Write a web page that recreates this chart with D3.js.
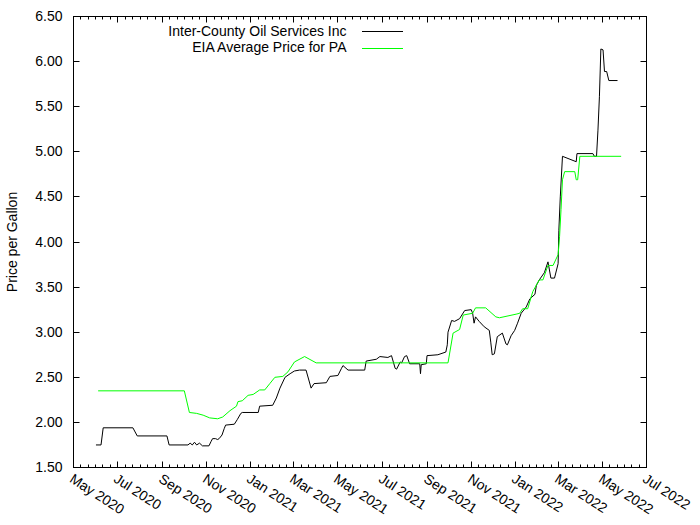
<!DOCTYPE html>
<html><head><meta charset="utf-8">
<script src="https://cdn.jsdelivr.net/npm/d3@7"></script>
<style>
html,body{margin:0;padding:0;background:#fff;}
text{font-family:"Liberation Sans",Arial,sans-serif;}
</style></head>
<body><svg id="c" width="700" height="525"></svg>
<script>
// ---- data ----
const seriesNames = ["Inter-County Oil Services Inc", "EIA Average Price for PA"];
const icData = [["2020-06-01",1.75],["2020-06-08",1.75],["2020-06-11",1.94],["2020-07-22",1.94],["2020-07-28",1.85],["2020-09-07",1.85],["2020-09-10",1.75],["2020-10-06",1.75],["2020-10-09",1.77],["2020-10-12",1.75],
["2020-10-15",1.78],["2020-10-18",1.75],["2020-10-22",1.77],["2020-10-26",1.74],["2020-11-04",1.74],["2020-11-07",1.79],["2020-11-09",1.82],["2020-11-13",1.82],["2020-11-16",1.81],["2020-11-18",1.82],
["2020-11-22",1.86],["2020-11-25",1.93],["2020-11-27",1.97],["2020-12-09",1.98],["2020-12-13",2.03],["2020-12-18",2.10],["2020-12-20",2.11],["2021-01-11",2.11],["2021-01-13",2.18],["2021-01-31",2.19],
["2021-02-05",2.27],["2021-02-10",2.38],["2021-02-17",2.50],["2021-02-24",2.54],["2021-03-02",2.57],["2021-03-09",2.58],["2021-03-18",2.58],["2021-03-25",2.38],["2021-03-29",2.43],["2021-04-15",2.44],
["2021-04-20",2.51],["2021-05-01",2.52],["2021-05-06",2.60],["2021-05-08",2.63],["2021-05-15",2.58],["2021-06-07",2.58],["2021-06-09",2.68],["2021-06-23",2.70],["2021-06-28",2.73],["2021-07-09",2.72],
["2021-07-14",2.74],["2021-07-19",2.60],["2021-07-21",2.59],["2021-07-26",2.67],["2021-07-28",2.66],["2021-08-01",2.73],["2021-08-04",2.74],["2021-08-08",2.65],["2021-08-22",2.65],["2021-08-23",2.54],
["2021-08-24",2.64],["2021-08-31",2.65],["2021-09-01",2.74],["2021-09-16",2.75],["2021-09-27",2.78],["2021-09-29",2.86],["2021-09-30",3.00],["2021-10-05",3.13],["2021-10-09",3.12],["2021-10-16",3.15],
["2021-10-23",3.24],["2021-11-01",3.25],["2021-11-03",3.21],["2021-11-05",3.10],["2021-11-07",3.17],["2021-11-12",3.12],["2021-11-19",3.06],["2021-11-26",3.02],["2021-11-28",2.89],["2021-11-30",2.75],
["2021-12-03",2.76],["2021-12-07",2.95],["2021-12-14",2.99],["2021-12-19",2.87],["2021-12-21",2.86],["2021-12-26",2.96],["2021-12-31",3.02],["2022-01-04",3.10],["2022-01-09",3.21],["2022-01-16",3.28],
["2022-01-21",3.37],["2022-01-28",3.42],["2022-01-30",3.52],["2022-02-03",3.58],["2022-02-10",3.66],["2022-02-15",3.78],["2022-02-19",3.60],["2022-02-24",3.60],["2022-03-01",3.76],["2022-03-02",4.13],
["2022-03-04",4.50],["2022-03-07",4.95],["2022-03-26",4.89],["2022-03-27",4.98],["2022-04-18",4.98],["2022-04-20",4.95],["2022-04-23",4.95],["2022-04-25",5.24],["2022-04-27",5.61],["2022-04-29",6.14],
["2022-05-02",6.13],["2022-05-04",5.89],["2022-05-07",5.89],["2022-05-10",5.79],["2022-05-22",5.79]];
const eiaData = [["2020-06-04",2.35],["2020-10-01",2.35],["2020-10-08",2.11],["2020-10-18",2.10],["2020-10-27",2.08],["2020-11-05",2.05],["2020-11-16",2.04],["2020-11-23",2.06],["2020-12-03",2.13],["2020-12-12",2.18],
["2020-12-14",2.23],["2020-12-20",2.24],["2020-12-28",2.30],["2021-01-04",2.31],["2021-01-13",2.36],["2021-01-20",2.36],["2021-01-27",2.43],["2021-02-03",2.50],["2021-02-14",2.51],["2021-02-21",2.56],
["2021-03-02",2.67],["2021-03-16",2.73],["2021-04-01",2.66],["2021-09-30",2.66],["2021-10-07",2.99],["2021-10-16",3.03],["2021-10-21",3.19],["2021-11-03",3.21],["2021-11-07",3.27],["2021-11-21",3.27],
["2021-12-05",3.17],["2021-12-10",3.16],["2022-01-02",3.20],["2022-01-07",3.21],["2022-01-11",3.26],["2022-01-18",3.26],["2022-01-25",3.45],["2022-02-03",3.58],["2022-02-08",3.58],["2022-02-15",3.74],
["2022-02-22",3.74],["2022-03-01",3.86],["2022-03-03",4.06],["2022-03-05",4.36],["2022-03-07",4.69],["2022-03-10",4.78],["2022-03-24",4.78],["2022-03-26",4.69],["2022-03-28",4.69],["2022-03-31",4.95],
["2022-05-27",4.95]];
const xDomain = ["2020-05-01", "2022-07-01"];
const yTicks = [1.5, 2.0, 2.5, 3.0, 3.5, 4.0, 4.5, 5.0, 5.5, 6.0, 6.5];
const yLabel = "Price per Gallon";

// ---- drawing ----
const parse = d3.timeParse("%Y-%m-%d");
const svg = d3.select("#c");
const L = 73.5, R = 646.5, T = 16.5, B = 467.5;
const x = d3.scaleTime().domain(xDomain.map(parse)).range([L, R]);
const y = d3.scaleLinear().domain([1.5, 6.5]).range([B, T]);
const font = "14px";

// border
svg.append("rect").attr("x", L).attr("y", T).attr("width", R - L).attr("height", B - T)
  .attr("fill", "none").attr("stroke", "#000").attr("stroke-width", 1);

// y ticks (inward, mirrored)
const gy = svg.append("g");
yTicks.forEach(v => {
  const yy = Math.round(y(v) - 0.5) + 0.5;
  gy.append("line").attr("x1", L).attr("x2", L + 6).attr("y1", yy).attr("y2", yy).attr("stroke", "#000");
  gy.append("line").attr("x1", R).attr("x2", R - 6).attr("y1", yy).attr("y2", yy).attr("stroke", "#000");
  gy.append("text").attr("x", L - 11).attr("y", yy).attr("dy", "0.35em").attr("text-anchor", "end")
    .attr("font-size", font).attr("fill", "#000").text(d3.format(".2f")(v));
});

// x ticks
const majors = x.ticks(d3.timeMonth.every(2));
const fmt = d3.timeFormat("%b %Y");
const gx = svg.append("g");
majors.forEach((d, i) => {
  const xx = Math.round(x(d) - 0.5) + 0.5;
  gx.append("line").attr("x1", xx).attr("x2", xx).attr("y1", B).attr("y2", B - 6).attr("stroke", "#000");
  gx.append("line").attr("x1", xx).attr("x2", xx).attr("y1", T).attr("y2", T + 6).attr("stroke", "#000");
  gx.append("text").attr("transform", `translate(${xx + 1},${B + 5}) rotate(33)`)
    .attr("dy", "0.75em").attr("text-anchor", "start").attr("font-size", font).attr("fill", "#000")
    .text(fmt(d));
  if (i < majors.length - 1) {
    const t0 = +d, t1 = +majors[i + 1];
    for (let k = 1; k < 6; k++) {
      const mx = Math.round(x(new Date(t0 + (t1 - t0) * k / 6)) - 0.5) + 0.5;
      gx.append("line").attr("x1", mx).attr("x2", mx).attr("y1", B).attr("y2", B - 3).attr("stroke", "#000");
      gx.append("line").attr("x1", mx).attr("x2", mx).attr("y1", T).attr("y2", T + 3).attr("stroke", "#000");
    }
  }
});

// y label
svg.append("text").attr("transform", `translate(17,${(T + B) / 2}) rotate(-90)`)
  .attr("text-anchor", "middle").attr("font-size", font).attr("fill", "#000").text(yLabel);

// lines
const line = d3.line().x(d => x(parse(d[0]))).y(d => y(d[1]));
svg.append("path").datum(icData).attr("d", line).attr("fill", "none").attr("stroke", "#000").attr("stroke-width", 1);
svg.append("path").datum(eiaData).attr("d", line).attr("fill", "none").attr("stroke", "#00ff00").attr("stroke-width", 1);

// legend
const colors = ["#000", "#00ff00"];
seriesNames.forEach((n, i) => {
  const ly = 31 + i * 16.5;
  svg.append("text").attr("x", 346.5).attr("y", ly).attr("dy", "0.35em").attr("text-anchor", "end")
    .attr("font-size", font).attr("fill", "#000").text(n);
  svg.append("line").attr("x1", 362).attr("x2", 403).attr("y1", Math.round(ly) + 0.5).attr("y2", Math.round(ly) + 0.5)
    .attr("stroke", colors[i]).attr("stroke-width", 1);
});
</script></body></html>
